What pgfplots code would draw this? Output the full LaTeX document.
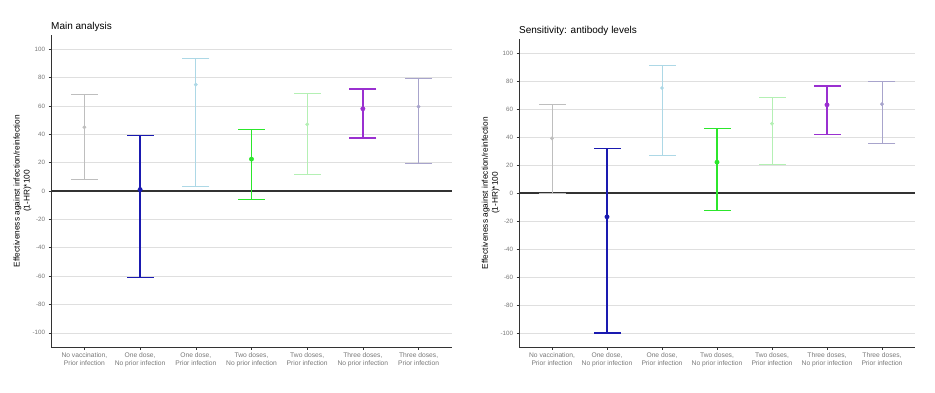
\documentclass[border=0pt]{standalone}
\usepackage{pgfplots}
\pgfplotsset{compat=1.18}
\usepackage{fontspec}
\setmainfont{Liberation Sans}
\definecolor{cgrey}{HTML}{BEBEBE}
\definecolor{cnavy}{HTML}{1A1AB0}
\definecolor{clblue}{HTML}{ADD8E6}
\definecolor{cgreen}{HTML}{2CE62C}
\definecolor{cpgreen}{HTML}{B4F0B4}
\definecolor{cpurple}{HTML}{9A30D0}
\definecolor{clav}{HTML}{A8A4CC}
\definecolor{axgray}{HTML}{333333}
\definecolor{tkgray}{HTML}{777777}
\pgfplotsset{
  panel/.style={
    scale only axis,
    xmin=0.4, xmax=7.6, ymin=-110, ymax=110,
    axis x line*=bottom, axis y line*=left,
    axis line style={axgray, line width=0.9pt},
    xtick={1,...,7},
    xticklabels={{No vaccination,\\Prior infection},{One dose,\\No prior infection},{One dose,\\Prior infection},{Two doses,\\No prior infection},{Two doses,\\Prior infection},{Three doses,\\No prior infection},{Three doses,\\Prior infection}},
    xticklabel style={align=center, font=\fontsize{6.7}{7.2}\selectfont, text=tkgray},
    ytick={-100,-80,...,100},
    yticklabel style={font=\fontsize{6.2}{7}\selectfont, text=tkgray},
    /pgf/number format/assume math mode=true,
    tick align=outside,
    major tick length=2.5pt,
    tick style={axgray, line width=0.6pt},
    ymajorgrids,
    grid style={gray!25, line width=0.6pt},
    extra y ticks={0},
    extra y tick labels={},
    extra y tick style={grid style={axgray, line width=1.1pt}, major tick length=0pt},
    ylabel={Effectiveness against infection/reinfection\\(1-HR)*100},
    ylabel style={align=center, font=\fontsize{8.3}{10}\selectfont, at={(axis description cs:-0.04,0.5)}, anchor=south},
    title style={anchor=south west, at={(0,1)}, inner sep=0pt, font=\fontsize{10}{12}\selectfont, yshift=-3pt},
    clip=false,
  },
}
% #1 colour, #2 line width, #3 dot size, #4 x, #5 estimate, #6 lower, #7 upper
\newcommand{\ci}[7]{%
\addplot[color=#1, draw=#1, line width=#2, mark=none] coordinates {(#4,#6) (#4,#7)};
\addplot[color=#1, draw=#1, only marks, mark=-, mark size=13.5pt, mark options={line width=#2, draw=#1}] coordinates {(#4,#6) (#4,#7)};
\addplot[color=#1, draw=#1, fill=#1, only marks, mark=*, mark size=#3] coordinates {(#4,#5)};}
\begin{document}
\begin{tikzpicture}
\path[use as bounding box] (0pt,0pt) rectangle (935pt,392pt);
\begin{axis}[panel, at={(51pt,45pt)}, anchor=south west, width=401pt, height=312pt, title={Main analysis}]
\ci{cgrey}{0.9pt}{1.7pt}{1}{45}{8}{68}
\ci{cnavy}{1.4pt}{2.2pt}{2}{1}{-61}{39}
\ci{clblue}{0.9pt}{1.7pt}{3}{75}{3.5}{93.5}
\ci{cgreen}{1.4pt}{2.2pt}{4}{22.5}{-6}{43.5}
\ci{cpgreen}{0.9pt}{1.7pt}{5}{47}{12}{68.5}
\ci{cpurple}{1.4pt}{2.2pt}{6}{58}{37.5}{72}
\ci{clav}{0.9pt}{1.7pt}{7}{59.5}{19.5}{79.5}
\end{axis}
\begin{axis}[panel, at={(519pt,45pt)}, anchor=south west, width=396pt, height=308pt, title={Sensitivity: antibody levels}]
\ci{cgrey}{0.9pt}{1.7pt}{1}{39}{0}{63}
\ci{cnavy}{1.4pt}{2.2pt}{2}{-17}{-100}{32}
\ci{clblue}{0.9pt}{1.7pt}{3}{75}{27}{91}
\ci{cgreen}{1.4pt}{2.2pt}{4}{22}{-12.5}{46}
\ci{cpgreen}{0.9pt}{1.7pt}{5}{49.5}{20.5}{68}
\ci{cpurple}{1.4pt}{2.2pt}{6}{63}{42}{76.5}
\ci{clav}{0.9pt}{1.7pt}{7}{63.5}{35.5}{79.5}
\end{axis}
\end{tikzpicture}
\end{document}
